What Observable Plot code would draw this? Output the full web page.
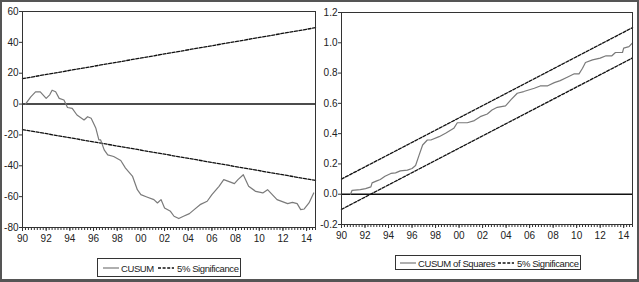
<!DOCTYPE html>
<html>
<head>
<meta charset="utf-8">
<script src="https://cdn.jsdelivr.net/npm/d3@7"></script>
<script src="https://cdn.jsdelivr.net/npm/@observablehq/plot@0.6"></script>
<style>
  html, body { margin: 0; padding: 0; background: #fff; }
  #wrap { position: relative; width: 639px; height: 282px; overflow: hidden; background: #fff;
    font-family: "Liberation Sans", Arial, sans-serif; }
  #frame { position: absolute; left: 0; top: 0; width: 639px; height: 282px; box-sizing: border-box;
    border: 2px solid #555; border-bottom-width: 3px; pointer-events: none; }
  .panel { position: absolute; top: 0; }
  .legend { position: absolute; border: 1px solid #333; box-sizing: border-box; background: #fff;
    font-size: 9.5px; letter-spacing: -0.4px; color: #222; white-space: nowrap; }
  .legend svg, .legend span { position: absolute; top: 50%; transform: translateY(-50%); display: block; }
</style>
</head>
<body>
<div id="wrap">
  <div class="panel" id="left" style="left:0px"></div>
  <div class="panel" id="right" style="left:320px"></div>
  <div class="legend" id="legL" style="left:97px; top:258px; width:144px; height:19px;"></div>
  <div class="legend" id="legR" style="left:395px; top:255px; width:186px; height:15px;"></div>
  <div id="frame"></div>
</div>
<script>
// ---- Data: CUSUM (left panel) ----
const cusumYears = [1990.25, 1990.7, 1991.1, 1991.5, 1992.0, 1992.3, 1992.5, 1992.8, 1993.1, 1993.5, 1993.8, 1994.2, 1994.6, 1995.2, 1995.5, 1995.8, 1996.2, 1996.45, 1996.6, 1996.9, 1997.2, 1997.7, 1998.3, 1998.7, 1999.3, 1999.7, 2000.0, 2000.5, 2001.1, 2001.4, 2001.7, 2002.0, 2002.5, 2002.8, 2003.2, 2003.6, 2004.1, 2004.5, 2005.0, 2005.6, 2006.0, 2006.6, 2007.0, 2007.4, 2007.9, 2008.2, 2008.65, 2009.1, 2009.7, 2010.3, 2010.7, 2011.1, 2011.5, 2012.4, 2012.8, 2013.2, 2013.5, 2013.8, 2014.2, 2014.6];
const cusumValues = [0, 4.7, 7.9, 7.9, 3.7, 6, 9, 8, 3.7, 2.6, -2.2, -2.8, -7.1, -10.3, -8.2, -9.2, -15.7, -23.2, -23.2, -29.7, -32.9, -34, -36.6, -41.5, -46.9, -55.5, -58.7, -60.2, -61.9, -64.1, -61.9, -67.3, -69.5, -72.7, -74.2, -72.7, -71, -68.4, -65.2, -63, -58.7, -53.3, -49, -50.1, -51.6, -49, -45.8, -53.3, -56.6, -57.6, -55.5, -58.7, -61.9, -64.5, -63.7, -64.5, -68.4, -68, -64.1, -57.6];
const cusumSigYears = [1990, 2014.75];
const cusumUpper = [16.5, 49.5];
const cusumLower = [-16.5, -49.5];
const cusumYTicks = [-80, -60, -40, -20, 0, 20, 40, 60];

// ---- Data: CUSUM of Squares (right panel) ----
const sqYears = [1990.77, 1990.9, 1991.6, 1992.05, 1992.5, 1992.6, 1993.0, 1993.3, 1993.7, 1994.2, 1994.6, 1995.0, 1995.6, 1996.0, 1996.3, 1996.6, 1996.9, 1997.3, 1997.6, 1998.3, 1998.85, 1999.55, 1999.85, 2000.7, 2001.3, 2001.8, 2002.4, 2002.8, 2003.25, 2003.95, 2004.4, 2004.95, 2005.5, 2006.4, 2006.9, 2007.5, 2008.1, 2008.6, 2009.2, 2009.8, 2010.2, 2010.5, 2010.75, 2011.35, 2012.0, 2012.5, 2013.0, 2013.3, 2013.9, 2014.0, 2014.45, 2014.75];
const sqValues = [0.0, 0.026, 0.03, 0.037, 0.048, 0.075, 0.088, 0.097, 0.119, 0.137, 0.141, 0.154, 0.159, 0.17, 0.19, 0.258, 0.325, 0.358, 0.358, 0.38, 0.402, 0.435, 0.472, 0.472, 0.486, 0.512, 0.53, 0.556, 0.574, 0.583, 0.623, 0.667, 0.678, 0.7, 0.715, 0.715, 0.737, 0.75, 0.772, 0.795, 0.795, 0.832, 0.87, 0.887, 0.899, 0.914, 0.914, 0.936, 0.936, 0.965, 0.975, 1.0];
const sqSigYears = [1990, 2014.75];
const sqUpper = [0.1, 1.1];
const sqLower = [-0.1, 0.9];
const sqYTicks = [-0.2, 0.0, 0.2, 0.4, 0.6, 0.8, 1.0, 1.2];

// ---- Shared axis tick labels ----
const yearTicks = [1990, 1992, 1994, 1996, 1998, 2000, 2002, 2004, 2006, 2008, 2010, 2012, 2014];
const xDomain = [1990, 2014.75];
const quarterTicks = d3.range(1990, 2014.76, 0.25);

const FONT = '"Liberation Sans", Arial, sans-serif';
const lineColor = "#7a7a7a";
const dash = "3,1.6";

function zip(xs, ys) { return xs.map((x, i) => ({x, y: ys[i]})); }

function panel({width, height, ml, mr, mt, mb, yDomain, yTicks, yFmt, series, sigYears, upper, lower}) {
  return Plot.plot({
    width, height,
    marginLeft: ml, marginRight: mr, marginTop: mt, marginBottom: mb,
    style: {fontFamily: FONT, fontSize: "10px", color: "#222", background: "white"},
    x: {domain: xDomain, label: null},
    y: {domain: yDomain, label: null},
    marks: [
      Plot.ruleY([0], {stroke: "#111", strokeWidth: 1.4}),
      Plot.line(zip(sigYears, upper), {x: "x", y: "y", stroke: "#111", strokeWidth: 1.3, strokeDasharray: dash}),
      Plot.line(zip(sigYears, lower), {x: "x", y: "y", stroke: "#111", strokeWidth: 1.3, strokeDasharray: dash}),
      Plot.line(series, {x: "x", y: "y", stroke: lineColor, strokeWidth: 1.2}),
      Plot.frame({stroke: "#333", strokeWidth: 1}),
      Plot.axisX(quarterTicks, {tickSize: 3, text: null, label: null, stroke: "#333"}),
      Plot.axisX(yearTicks, {tickSize: 4, tickPadding: 3, label: null, stroke: "#333",
        tickFormat: d => String(d % 100).padStart(2, "0")}),
      Plot.axisY(yTicks, {tickSize: 3, tickPadding: 1, label: null, stroke: "#333", tickFormat: yFmt})
    ]
  });
}

document.getElementById("left").append(panel({
  width: 320, height: 250, ml: 22, mr: 5, mt: 11, mb: 23,
  yDomain: [-80, 60], yTicks: cusumYTicks, yFmt: d => String(d),
  series: zip(cusumYears, cusumValues), sigYears: cusumSigYears, upper: cusumUpper, lower: cusumLower
}));

document.getElementById("right").append(panel({
  width: 319, height: 250, ml: 21, mr: 7, mt: 12, mb: 26,
  yDomain: [-0.2, 1.2], yTicks: sqYTicks, yFmt: d => d.toFixed(1),
  series: zip(sqYears, sqValues), sigYears: sqSigYears, upper: sqUpper, lower: sqLower
}));

// ---- Legends ----
const legSeriesL = ["CUSUM", "5% Significance"];
const legSeriesR = ["CUSUM of Squares", "5% Significance"];
function sample(solid) {
  const s = d3.create("svg").attr("width", 16).attr("height", 6);
  s.append("line").attr("x1", 0).attr("x2", 16).attr("y1", 3).attr("y2", 3)
    .attr("stroke", solid ? lineColor : "#111").attr("stroke-width", solid ? 1.2 : 1.3)
    .attr("stroke-dasharray", solid ? null : dash);
  return s.node();
}
// offsets (px, relative to box left): [sample1, text1, sample2, text2]
function legend(id, labels, offs) {
  const el = document.getElementById(id);
  labels.forEach((lab, i) => {
    const s = sample(i === 0);
    s.style.left = offs[i * 2] + "px";
    el.append(s);
    const sp = document.createElement("span");
    sp.textContent = lab;
    sp.style.left = offs[i * 2 + 1] + "px";
    el.append(sp);
  });
}
legend("legL", legSeriesL, [5, 23, 60, 79]);
legend("legR", legSeriesR, [4, 22, 102, 121]);
</script>
</body>
</html>
